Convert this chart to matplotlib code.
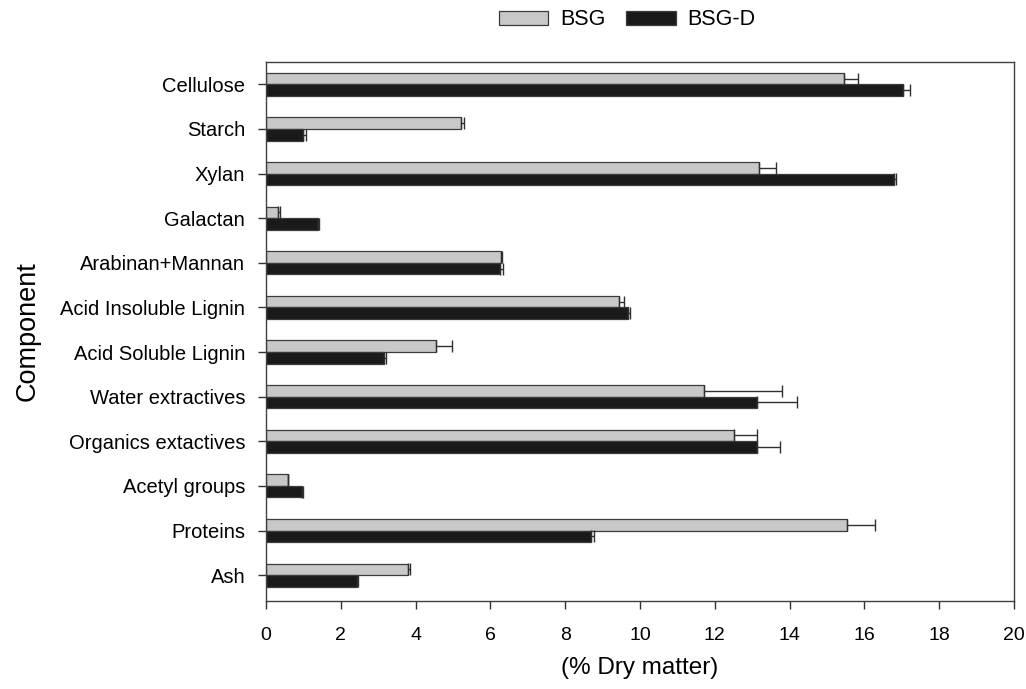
import numpy as np
import matplotlib
matplotlib.use("Agg")
import matplotlib.pyplot as plt

plt.rcParams['font.family'] = ['Liberation Sans', 'DejaVu Sans']

# Composition data (% dry matter)
components = ["Cellulose", "Starch", "Xylan", "Galactan", "Arabinan+Mannan",
              "Acid Insoluble Lignin", "Acid Soluble Lignin", "Water extractives",
              "Organics extactives", "Acetyl groups", "Proteins", "Ash"]
bsg = [15.46, 5.21, 13.17, 0.33, 6.27, 9.44, 4.55, 11.70, 12.52, 0.58, 15.53, 3.80]
bsg_err = [0.37, 0.07, 0.47, 0.03, 0.03, 0.14, 0.42, 2.10, 0.61, 0.02, 0.75, 0.05]
bsgd = [17.04, 1.00, 16.80, 1.39, 6.25, 9.68, 3.16, 13.12, 13.14, 0.96, 8.68, 2.43]
bsgd_err = [0.18, 0.07, 0.05, 0.02, 0.08, 0.04, 0.04, 1.09, 0.61, 0.02, 0.09, 0.02]

fig = plt.figure(figsize=(10.26, 6.89), dpi=100)
ax = fig.add_axes([0.2593, 0.1277, 0.7290, 0.7823])

y = np.arange(len(components))
h = 0.26
edge = "#3c3c3c"

ax.barh(y - h / 2, bsg, height=h, color="#c8c8c8", edgecolor=edge, linewidth=0.9, label="BSG")
ax.barh(y + h / 2, bsgd, height=h, color="#1a1a1a", edgecolor=edge, linewidth=0.9, label="BSG-D")

zeros = np.zeros(len(components))
ax.errorbar(bsg, y - h / 2, xerr=[zeros, bsg_err], fmt="none", ecolor="#303030",
            elinewidth=1.0, capsize=4.5, capthick=1.0)
ax.errorbar(bsgd, y + h / 2, xerr=[zeros, bsgd_err], fmt="none", ecolor="#303030",
            elinewidth=1.0, capsize=4.5, capthick=1.0)

ax.set_xlim(0, 20)
ax.set_ylim(len(components) - 0.42, -0.5)
ax.set_xticks(np.arange(0, 21, 2))
ax.set_yticks(y)
ax.set_yticklabels(components)
ax.tick_params(axis="both", direction="out", width=1.0, color="#303030")
ax.tick_params(axis="x", length=6, pad=13, labelsize=14)
ax.tick_params(axis="y", length=6, pad=9, labelsize=14.5)
for s in ax.spines.values():
    s.set_color("#404040")
    s.set_linewidth(1.0)

ax.set_xlabel("(% Dry matter)", fontsize=17.5, labelpad=9)
ax.set_ylabel("Component", fontsize=19.5, labelpad=14)

ax.legend(loc="center", bbox_to_anchor=(0.483, 1.078), ncol=2, frameon=False,
          fontsize=15.5, handlelength=2.3, handleheight=0.65, columnspacing=0.95,
          handletextpad=0.55)

fig.savefig("out.png", dpi=100, facecolor="white")
